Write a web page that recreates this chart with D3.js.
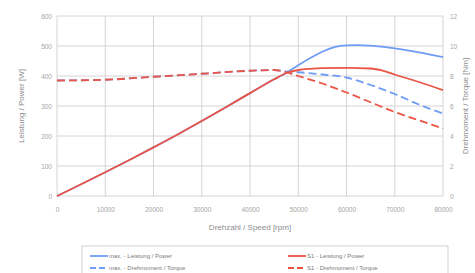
<!DOCTYPE html>
<html>
<head>
<meta charset="utf-8">
<script src="https://cdn.jsdelivr.net/npm/d3@7"></script>
<style>
body { margin: 0; background: #fff; }
text { font-family: "Liberation Sans", Arial, sans-serif; }
</style>
</head>
<body>
<svg id="chart" width="475" height="273"></svg>
<script>
// speed points shared by the first part of all curves
var speedLow = [0, 5000, 10000, 15000, 20000, 25000, 30000, 35000, 40000, 45000, 47500];
var powerLow = [0, 39, 79, 120, 162, 205, 250, 296, 343, 389, 410];
var torqueLowSpeed = [0, 10000, 20000, 30000, 40000, 45000];
var torqueLow = [7.7, 7.75, 7.95, 8.15, 8.35, 8.4];

var maxPowerSpeed = [50000, 52500, 55000, 57500, 60000, 62500, 65000, 70000, 75000, 80000];
var maxPower = [436, 460, 481, 496, 502, 503, 501, 492, 479, 463];

var s1PowerSpeed = [50000, 52500, 55000, 60000, 65000, 67500, 70000, 75000, 80000];
var s1Power = [420, 424, 426, 427, 425, 418, 405, 380, 353];

var maxTorqueSpeed = [47500, 50000, 55000, 60000, 65000, 70000, 75000, 80000];
var maxTorque = [8.3, 8.25, 8.1, 7.9, 7.4, 6.8, 6.1, 5.5];

var s1TorqueSpeed = [47500, 50000, 55000, 60000, 65000, 70000, 75000, 80000];
var s1Torque = [8.25, 8.0, 7.5, 6.9, 6.25, 5.6, 5.05, 4.5];

var xTicks = [0, 10000, 20000, 30000, 40000, 50000, 60000, 70000, 80000];
var yTicks = [0, 100, 200, 300, 400, 500, 600];
var y2Ticks = [0, 2, 4, 6, 8, 10, 12];

var legendLabels = ["max. - Leistung / Power", "S1 - Leistung / Power",
                    "max. - Drehmoment / Torque", "S1 - Drehmoment / Torque"];

var blue = "#6f9cf5", red = "#ec5546";

var svg = d3.select('#chart');
var x = d3.scaleLinear().domain([0, 80000]).range([57, 443]);
var y = d3.scaleLinear().domain([0, 600]).range([196, 16]);
var y2 = d3.scaleLinear().domain([0, 12]).range([196, 16]);

// grid
svg.append('g').selectAll('line').data(xTicks).enter().append('line')
	.attr("x1", function(d){ return x(d); }).attr("x2", function(d){ return x(d); })
	.attr("y1", y(0)).attr("y2", y(600))
	.style("stroke", "#d4d4d4").style("stroke-width", 1);
svg.append('g').selectAll('line').data(yTicks).enter().append('line')
	.attr("x1", x(0)).attr("x2", x(80000))
	.attr("y1", function(d){ return y(d); }).attr("y2", function(d){ return y(d); })
	.style("stroke", "#d4d4d4").style("stroke-width", 1);

// axes
var xAxis = svg.append('g').attr("transform", "translate(0," + (y(0) + 7) + ")")
	.call(d3.axisBottom(x).tickValues(xTicks).tickFormat(d3.format("d")).tickSize(0).tickPadding(4));
var yAxis = svg.append('g').attr("transform", "translate(" + (x(0) - 3) + ",0)")
	.call(d3.axisLeft(y).tickValues(yTicks).tickSize(0).tickPadding(2));
var y2Axis = svg.append('g').attr("transform", "translate(" + (x(80000) + 5) + ",0)")
	.call(d3.axisRight(y2).tickValues(y2Ticks).tickSize(0).tickPadding(2));
[xAxis, yAxis, y2Axis].forEach(function(a){
	a.select('.domain').remove();
	a.selectAll('text').style("font-size", "6.5px").style("fill", "#a4a4a4");
});

svg.append('text').attr("x", 250).attr("y", 230).attr("text-anchor", "middle")
	.style("font-size", "8px").style("fill", "#8c8c8c").text("Drehzahl / Speed [rpm]");
svg.append('text').attr("transform", "translate(24,106) rotate(-90)").attr("text-anchor", "middle")
	.style("font-size", "8px").style("fill", "#8c8c8c").text("Leistung / Power [W]");
svg.append('text').attr("transform", "translate(468,106) rotate(-90)").attr("text-anchor", "middle")
	.style("font-size", "8px").style("fill", "#8c8c8c").text("Drehmoment / Torque [Nm]");

function pts(sx, sy){
	return sx.map(function(s, i){ return [s, sy[i]]; });
}
var lineP = d3.line().x(function(d){ return x(d[0]); }).y(function(d){ return y(d[1]); }).curve(d3.curveMonotoneX);
var lineT = d3.line().x(function(d){ return x(d[0]); }).y(function(d){ return y2(d[1]); }).curve(d3.curveMonotoneX);

var lowP = pts(speedLow, powerLow);
var lowT = pts(torqueLowSpeed, torqueLow);

var series = [
	{ d: lineT(lowT.concat(pts(maxTorqueSpeed, maxTorque))), c: blue, dash: "8,4" },
	{ d: lineP(lowP.concat(pts(maxPowerSpeed, maxPower))), c: blue, dash: null },
	{ d: lineT(lowT.concat(pts(s1TorqueSpeed, s1Torque))), c: red, dash: "8,4" },
	{ d: lineP(lowP.concat(pts(s1PowerSpeed, s1Power))), c: red, dash: null }
];
series.forEach(function(s){
	svg.append('path').attr("d", s.d)
		.style("fill", "none").style("stroke", s.c).style("stroke-width", 1.8)
		.style("stroke-dasharray", s.dash);
});

// legend
svg.append('rect').attr("x", 82).attr("y", 246).attr("width", 366).attr("height", 40)
	.style("fill", "#fff").style("stroke", "#cfcfcf");
var legend = [
	{ x: 90, y: 256, c: blue, dash: null },
	{ x: 288, y: 256, c: red, dash: null },
	{ x: 90, y: 268, c: blue, dash: "6,3" },
	{ x: 288, y: 268, c: red, dash: "6,3" }
];
legend.forEach(function(l, i){
	svg.append('line').attr("x1", l.x).attr("x2", l.x + 18).attr("y1", l.y).attr("y2", l.y)
		.style("stroke", l.c).style("stroke-width", 1.8).style("stroke-dasharray", l.dash);
	svg.append('text').attr("x", l.x + 19).attr("y", l.y + 2.2)
		.style("font-size", "6px").style("fill", "#7a7a7a").text(legendLabels[i]);
});
</script>
</body>
</html>
